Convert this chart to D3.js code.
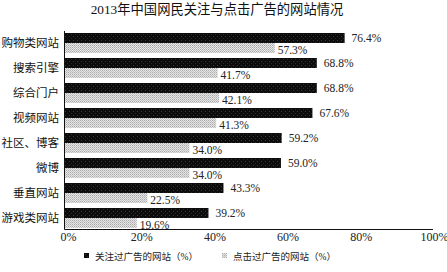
<!DOCTYPE html>
<html>
<head>
<meta charset="utf-8">
<script src="https://cdn.jsdelivr.net/npm/d3@7"></script>
<style>
  body { margin: 0; background: #fff; }
  svg { display: block; font-family: "Liberation Serif", "Noto Sans CJK SC", serif; }
</style>
</head>
<body>
<div id="chart"></div>
<script>
const categories = ['购物类网站', '搜索引擎', '综合门户', '视频网站', '社区、博客', '微博', '垂直网站', '游戏类网站'];
const attended = [76.4, 68.8, 68.8, 67.6, 59.2, 59.0, 43.3, 39.2];
const clicked = [57.3, 41.7, 42.1, 41.3, 34.0, 34.0, 22.5, 19.6];
const xTicks = [0, 20, 40, 60, 80, 100];
const seriesNames = ['关注过广告的网站（%）', '点击过广告的网站（%）'];
const title = '2013年中国网民关注与点击广告的网站情况';

const width = 447, height = 272;
const svg = d3.select('#chart').append('svg')
  .attr('width', width)
  .attr('height', height);

// halftone-like fills, the original is a scanned print
const defs = svg.append('defs');
const dark = defs.append('pattern')
  .attr('id', 'dark').attr('width', 4).attr('height', 4)
  .attr('patternUnits', 'userSpaceOnUse');
dark.append('rect').attr('width', 4).attr('height', 4).attr('fill', '#0c0c0c');
dark.append('rect').attr('x', 1).attr('y', 1).attr('width', 1).attr('height', 1).attr('fill', '#3a3a3a');
dark.append('rect').attr('x', 3).attr('y', 3).attr('width', 1).attr('height', 1).attr('fill', '#2a2a2a');
const light = defs.append('pattern')
  .attr('id', 'light').attr('width', 2).attr('height', 2)
  .attr('patternUnits', 'userSpaceOnUse');
light.append('rect').attr('width', 2).attr('height', 2).attr('fill', '#e6e6e6');
light.append('rect').attr('width', 1).attr('height', 1).attr('fill', '#ababab');
light.append('rect').attr('x', 1).attr('y', 1).attr('width', 1).attr('height', 1).attr('fill', '#c2c2c2');

const x = d3.scaleLinear().domain([0, 100]).range([65, 431]);
const y = d3.scaleBand().domain(categories).range([31, 231]);
const barH = 10;
const axisY = 229.5;

svg.append('text')
  .attr('x', 217).attr('y', 14)
  .attr('text-anchor', 'middle')
  .attr('font-size', 13.3)
  .attr('fill', '#111')
  .text(title);

const rows = svg.selectAll('.row')
  .data(categories)
  .enter()
  .append('g')
  .attr('class', 'row')
  .attr('transform', d => `translate(0, ${y(d)})`);

rows.append('rect')
  .attr('x', x(0))
  .attr('y', 2)
  .attr('width', (d, i) => x(attended[i]) - x(0))
  .attr('height', barH)
  .attr('fill', 'url(#dark)');

rows.append('rect')
  .attr('x', x(0))
  .attr('y', 2 + barH)
  .attr('width', (d, i) => x(clicked[i]) - x(0))
  .attr('height', barH)
  .attr('fill', 'url(#light)');

rows.append('text')
  .attr('x', (d, i) => x(attended[i]) + 7)
  .attr('y', 2 + barH / 2 + 4)
  .attr('font-size', 11.5)
  .attr('fill', '#222')
  .text((d, i) => attended[i].toFixed(1) + '%');

rows.append('text')
  .attr('x', (d, i) => x(clicked[i]) + 3)
  .attr('y', 2 + barH + barH / 2 + 6)
  .attr('font-size', 11.5)
  .attr('fill', '#222')
  .text((d, i) => clicked[i].toFixed(1) + '%');

rows.append('text')
  .attr('x', 59)
  .attr('y', 2 + barH + 4)
  .attr('text-anchor', 'end')
  .attr('font-size', 11.5)
  .attr('fill', '#111')
  .text(d => d);

// axes
svg.append('line')
  .attr('x1', 64.5).attr('x2', 64.5)
  .attr('y1', 31).attr('y2', axisY)
  .attr('stroke', '#111');

const xAxis = svg.append('g')
  .attr('transform', `translate(0, ${axisY})`)
  .call(d3.axisBottom(x).tickValues(xTicks).tickSize(0).tickFormat(d => d + '%'));
xAxis.select('.domain')
  .attr('d', `M64.5,0H433`)
  .attr('stroke', '#111');
xAxis.selectAll('.tick text')
  .attr('dx', 3)
  .attr('dy', 8)
  .attr('font-size', 12)
  .attr('font-family', '"Liberation Serif", serif')
  .attr('fill', '#222');

// legend
const legend = svg.append('g').attr('transform', 'translate(0, 257)');
const legendX = [84, 222];
const legendFill = ['url(#dark)', 'url(#light)'];
seriesNames.forEach((name, i) => {
  legend.append('rect')
    .attr('x', legendX[i]).attr('y', -4)
    .attr('width', 5).attr('height', 5)
    .attr('fill', legendFill[i]);
  legend.append('text')
    .attr('x', legendX[i] + 11).attr('y', 1)
    .attr('dominant-baseline', 'middle')
    .attr('font-size', 9.5)
    .attr('fill', '#222')
    .text(name);
});
</script>
</body>
</html>
